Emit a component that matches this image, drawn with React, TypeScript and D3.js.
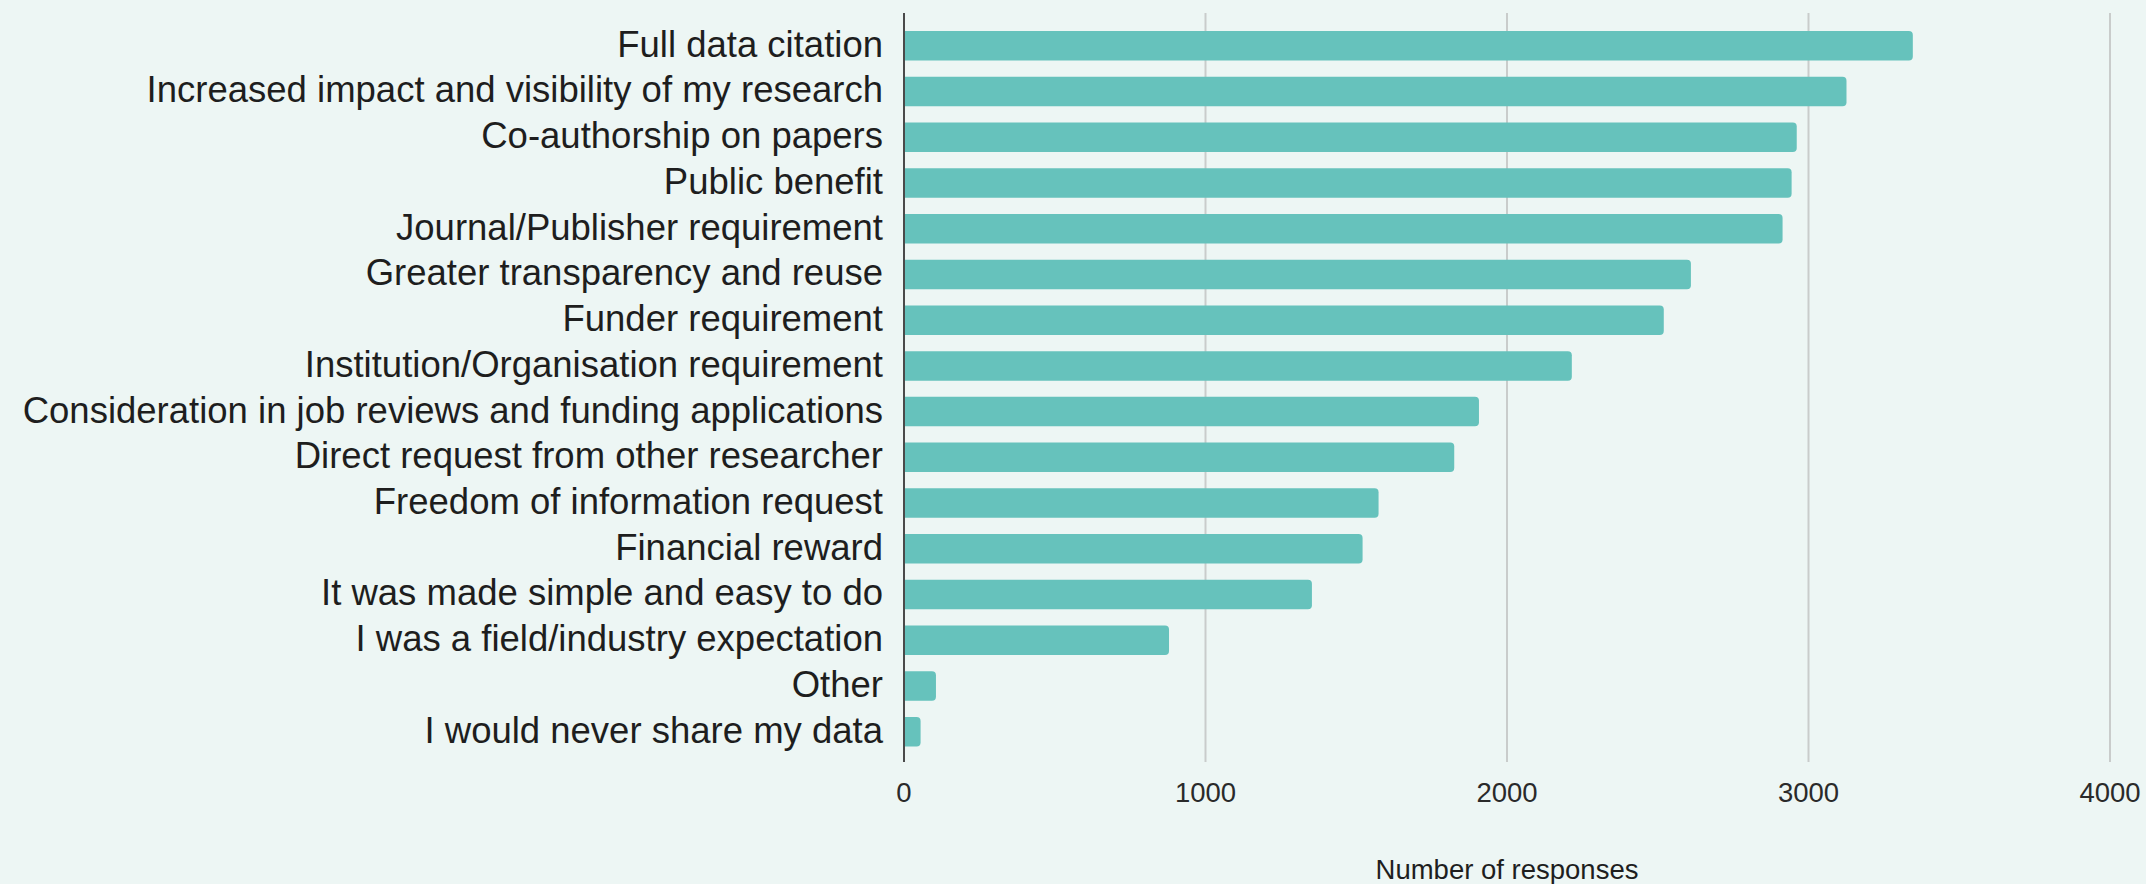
import React from "react";
import * as d3 from "d3";

const categories = [
  "Full data citation",
  "Increased impact and visibility of my research",
  "Co-authorship on papers",
  "Public benefit",
  "Journal/Publisher requirement",
  "Greater transparency and reuse",
  "Funder requirement",
  "Institution/Organisation requirement",
  "Consideration in job reviews and funding applications",
  "Direct request from other researcher",
  "Freedom of information request",
  "Financial reward",
  "It was made simple and easy to do",
  "I was a field/industry expectation",
  "Other",
  "I would never share my data",
];
const values = [3346, 3126, 2961, 2944, 2914, 2610, 2520, 2215, 1907, 1825, 1574, 1521, 1353, 879, 106, 55];
const ticks = [0, 1000, 2000, 3000, 4000];
const axisTitle = "Number of responses";

const W = 2146;
const H = 884;

export default function App() {
  const x = d3.scaleLinear().domain([0, 4000]).range([904, 2110]);
  const y = d3
    .scaleBand<string>()
    .domain(categories)
    .range([22.9, 754.6])
    .paddingInner(0.355)
    .paddingOuter(0.1775);
  const bw = y.bandwidth();
  const r = 4;
  const barPath = (v: number, top: number) => {
    const x0 = x(0);
    const x1 = x(v);
    const rr = Math.min(r, (x1 - x0) / 2);
    const p = d3.path();
    p.moveTo(x0, top);
    p.lineTo(x1 - rr, top);
    p.arcTo(x1, top, x1, top + rr, rr);
    p.lineTo(x1, top + bw - rr);
    p.arcTo(x1, top + bw, x1 - rr, top + bw, rr);
    p.lineTo(x0, top + bw);
    p.closePath();
    return p.toString();
  };
  const font = "'Liberation Sans', Arial, Helvetica, sans-serif";
  return (
    <svg
      width={W}
      height={H}
      style={{ position: "absolute", left: 0, top: 0, display: "block" }}
      fontFamily={font}
    >
      <rect x={0} y={0} width={W} height={H} fill="#EDF6F4" />
      {ticks.slice(1).map((t) => (
        <line key={t} x1={x(t)} x2={x(t)} y1={13} y2={762} stroke="#C9CCCB" strokeWidth={2} />
      ))}
      {categories.map((c, i) => (
        <path key={c} d={barPath(values[i], y(c) as number)} fill="#66C2BC" />
      ))}
      <line x1={x(0)} x2={x(0)} y1={13} y2={762} stroke="#4A4A4A" strokeWidth={2} />
      {categories.map((c) => (
        <text
          key={"l" + c}
          x={883}
          y={(y(c) as number) + bw / 2}
          dy="0.3em"
          textAnchor="end"
          fontSize={36.5}
          fill="#1E1E1E"
        >
          {c}
        </text>
      ))}
      {ticks.map((t) => (
        <text key={"t" + t} x={x(t)} y={802} textAnchor="middle" fontSize={27.5} fill="#2A2A2A">
          {t}
        </text>
      ))}
      <text x={x(2000)} y={879} textAnchor="middle" fontSize={27.5} fill="#1E1E1E">
        {axisTitle}
      </text>
    </svg>
  );
}
